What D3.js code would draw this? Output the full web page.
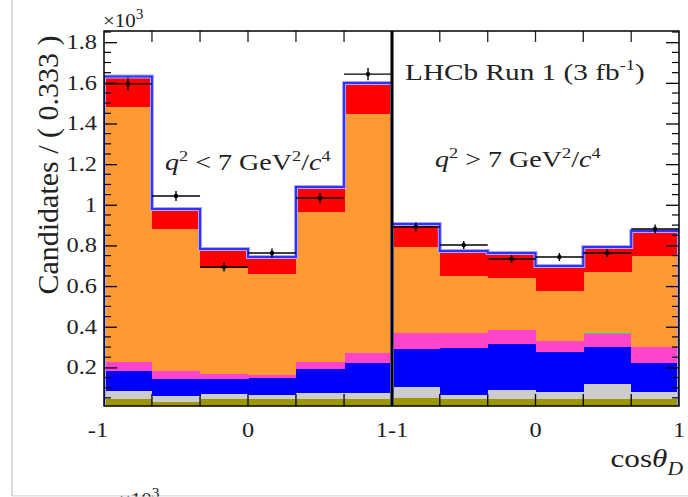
<!DOCTYPE html>
<html>
<head>
<meta charset="utf-8">
<script src="https://cdn.jsdelivr.net/npm/d3@7"></script>
<style>
  body { margin: 0; background: #ffffff; }
  svg { display: block; font-family: "Liberation Serif", "DejaVu Serif", serif; }
</style>
</head>
<body>
<svg id="chart" width="688" height="497"></svg>
<script>
// bin edges in cos(theta_D), same for both q2 panels
const binEdges = [-1, -0.667, -0.333, 0, 0.333, 0.667, 1];
const xTickLabels = [["-1", -1], ["0", 0], ["1", 1]];
const yTicks = [0.2, 0.4, 0.6, 0.8, 1, 1.2, 1.4, 1.6, 1.8];

// stacked templates, bottom to top (units of 10^3)
const lowOlive   = [0.044, 0.030, 0.044, 0.044, 0.044, 0.044];
const lowGray    = [0.040, 0.029, 0.025, 0.020, 0.030, 0.030];
const lowBlue    = [0.098, 0.084, 0.074, 0.084, 0.118, 0.148];
const lowMagenta = [0.044, 0.039, 0.024, 0.015, 0.034, 0.049];
const lowTeal    = [0, 0, 0, 0, 0, 0];
const lowOrange  = [1.255, 0.699, 0.522, 0.496, 0.738, 1.176];
const lowRed     = [0.150, 0.098, 0.093, 0.084, 0.123, 0.152];
const lowData    = [1.595, 1.043, 0.694, 0.763, 1.033, 1.643];
const lowErr     = [0.030, 0.025, 0.022, 0.022, 0.025, 0.030];

const highOlive   = [0.050, 0.044, 0.044, 0.044, 0.044, 0.044];
const highGray    = [0.053, 0.020, 0.045, 0.035, 0.074, 0.035];
const highBlue    = [0.187, 0.231, 0.226, 0.197, 0.182, 0.143];
const highMagenta = [0.079, 0.074, 0.069, 0.054, 0.064, 0.078];
const highTeal    = [0.002, 0.002, 0.002, 0.002, 0.004, 0.002];
const highOrange  = [0.421, 0.279, 0.254, 0.244, 0.301, 0.446];
const highRed     = [0.113, 0.123, 0.123, 0.123, 0.123, 0.123];
const highData    = [0.891, 0.802, 0.733, 0.743, 0.763, 0.881];
const highErr     = [0.022, 0.020, 0.020, 0.020, 0.020, 0.022];

const layerKeys   = ["olive", "gray", "blue", "magenta", "teal", "orange", "red"];
const layerColors = ["#9c9700", "#cccccc", "#0000ff", "#ff44cc", "#40c8a0", "#ff9933", "#ff0000"];

const panels = [
  { x0: 104, x1: 392, layers: [lowOlive, lowGray, lowBlue, lowMagenta, lowTeal, lowOrange, lowRed], data: lowData, err: lowErr },
  { x0: 392, x1: 679, layers: [highOlive, highGray, highBlue, highMagenta, highTeal, highOrange, highRed], data: highData, err: highErr }
];

const plotTop = 31, plotBottom = 406;
const sx = 1.22; // the figure's text is a little wide
const svg = d3.select("#chart");

const y = d3.scaleLinear().domain([0.01, 1.855]).range([plotBottom, plotTop]);

// horizontal text with the reference's wide look
function wideText(x0, y0, size, anchor, stretch) {
  return svg.append("g")
    .attr("transform", `translate(${x0},${y0}) scale(${stretch || sx},1)`)
    .append("text")
    .attr("text-anchor", anchor || "start")
    .attr("font-size", size)
    .attr("fill", "#222");
}

// page border lines
svg.append("line").attr("x1", 12).attr("x2", 12).attr("y1", 0).attr("y2", 496)
  .attr("stroke", "#c4c4c4").attr("stroke-width", 1.2);
svg.append("line").attr("x1", 12).attr("x2", 688).attr("y1", 496).attr("y2", 496)
  .attr("stroke", "#c4c4c4").attr("stroke-width", 1.2);

panels.forEach((p, pi) => {
  const x = d3.scaleLinear().domain([-1, 1]).range([p.x0, p.x1]);

  const rows = binEdges.slice(0, -1).map((e, i) => {
    const r = { lo: e, hi: binEdges[i + 1] };
    layerKeys.forEach((k, li) => r[k] = p.layers[li][i]);
    return r;
  });
  const stacked = d3.stack().keys(layerKeys)(rows);

  svg.append("clipPath").attr("id", "clip" + pi)
    .append("rect").attr("x", p.x0).attr("y", plotTop).attr("width", p.x1 - p.x0).attr("height", plotBottom - plotTop);

  const g = svg.append("g").attr("clip-path", `url(#clip${pi})`);

  stacked.forEach((layer, li) => {
    g.selectAll(null)
      .data(layer)
      .enter()
      .append("rect")
      .attr("x", d => x(d.data.lo))
      .attr("width", d => x(d.data.hi) - x(d.data.lo) + 0.5)
      .attr("y", d => y(d[1]))
      .attr("height", d => Math.max(0, y(d[0]) - y(d[1])))
      .attr("fill", layerColors[li])
      .attr("shape-rendering", "crispEdges");
  });

  // total fit outline
  const totals = rows.map(r => layerKeys.reduce((s, k) => s + r[k], 0));
  const pts = [[-1, 0]];
  rows.forEach((r, i) => pts.push([r.lo, totals[i]]));
  pts.push([1, totals[totals.length - 1]], [1, 0]);
  const line = d3.line().x(d => x(d[0])).y(d => y(d[1])).curve(d3.curveStepAfter);
  g.append("path").datum(pts).attr("d", line)
    .attr("fill", "none").attr("stroke", "#a8a8ff").attr("stroke-width", 4);
  g.append("path").datum(pts).attr("d", line)
    .attr("fill", "none").attr("stroke", "#3030ff").attr("stroke-width", 2);

  // data points
  const pts2 = rows.map((r, i) => ({ lo: r.lo, hi: r.hi, v: p.data[i], e: p.err[i] }));
  const dg = svg.append("g");
  dg.selectAll(null).data(pts2).enter().append("line")
    .attr("x1", d => x(d.lo)).attr("x2", d => x(d.hi))
    .attr("y1", d => y(d.v)).attr("y2", d => y(d.v))
    .attr("stroke", "#000").attr("stroke-width", 1.4);
  dg.selectAll(null).data(pts2).enter().append("line")
    .attr("x1", d => (x(d.lo) + x(d.hi)) / 2).attr("x2", d => (x(d.lo) + x(d.hi)) / 2)
    .attr("y1", d => y(d.v - d.e)).attr("y2", d => y(d.v + d.e))
    .attr("stroke", "#000").attr("stroke-width", 1.4);
  dg.selectAll(null).data(pts2).enter().append("circle")
    .attr("cx", d => (x(d.lo) + x(d.hi)) / 2).attr("cy", d => y(d.v)).attr("r", 2.2)
    .attr("fill", "#000");

  // bin-edge ticks, top and bottom
  const inner = binEdges.slice(1, -1);
  svg.selectAll(null).data(inner).enter().append("line")
    .attr("x1", d => x(d)).attr("x2", d => x(d))
    .attr("y1", plotBottom).attr("y2", plotBottom - 12)
    .attr("stroke", "#000").attr("stroke-width", 1.3);
  svg.selectAll(null).data(inner).enter().append("line")
    .attr("x1", d => x(d)).attr("x2", d => x(d))
    .attr("y1", plotTop).attr("y2", plotTop + 11)
    .attr("stroke", "#222").attr("stroke-width", 1.3);

  // x tick labels; the left "1" and right "-1" share the divider and read "1-1"
  xTickLabels.forEach(([txt, v]) => {
    if (pi === 0 && v === 1) return;
    let label = txt, px = x(v);
    if (pi === 1 && v === -1) label = "1-1";
    if (pi === 0 && v === -1) px -= 6;
    wideText(px, 437, 20, "middle").text(label);
  });
});

// y axes
const minor = d3.range(0.05, 1.86, 0.05).filter(v => Math.abs(v * 5 - Math.round(v * 5)) > 1e-6);
const leftAxis = d3.axisLeft(y).tickValues(yTicks).tickSizeInner(-13).tickSizeOuter(0).tickFormat("");
const ax = svg.append("g").attr("transform", "translate(104,0)").call(leftAxis);
ax.select(".domain").remove();
ax.selectAll("line").attr("stroke-width", 1.3);
yTicks.forEach(v => wideText(97, y(v) + 7, 20, "end").text(d3.format("~g")(v)));
svg.append("g").selectAll("line").data(minor).enter().append("line")
  .attr("x1", 104).attr("x2", 111).attr("y1", d => y(d)).attr("y2", d => y(d))
  .attr("stroke", "#000").attr("stroke-width", 1.2);

const rightAxis = d3.axisRight(y).tickValues(yTicks).tickSizeInner(-13).tickSizeOuter(0).tickFormat("");
const rx = svg.append("g").attr("transform", "translate(679,0)").call(rightAxis);
rx.select(".domain").remove();
rx.selectAll("line").attr("stroke-width", 1.3);
svg.append("g").selectAll("line").data(minor).enter().append("line")
  .attr("x1", 679).attr("x2", 672).attr("y1", d => y(d)).attr("y2", d => y(d))
  .attr("stroke", "#000").attr("stroke-width", 1.2);

// frame and divider
svg.append("rect").attr("x", 104).attr("y", plotTop).attr("width", 575).attr("height", plotBottom - plotTop)
  .attr("fill", "none").attr("stroke", "#000").attr("stroke-width", 1.5);
svg.append("line").attr("x1", 392).attr("x2", 392).attr("y1", plotTop).attr("y2", plotBottom)
  .attr("stroke", "#000").attr("stroke-width", 3);

// texts
const mult = wideText(103, 27, 19, "start", 1.1);
mult.append("tspan").text("×10");
mult.append("tspan").attr("dy", -8).attr("font-size", 14).text("3");

const mult2 = wideText(119, 506, 19, "start", 1.1);
mult2.append("tspan").text("×10");
mult2.append("tspan").attr("dy", -8).attr("font-size", 14).text("3");
svg.append("rect").attr("x", 0).attr("y", 496.6).attr("width", 688).attr("height", 1).attr("fill", "#fff");

svg.append("text")
  .attr("transform", "translate(58,165) rotate(-90)")
  .attr("text-anchor", "middle")
  .attr("font-size", 30)
  .attr("fill", "#222")
  .text("Candidates / ( 0.333 )");

const xl = wideText(683, 467, 26, "end", 1.2);
xl.append("tspan").text("cos");
xl.append("tspan").attr("font-style", "italic").text("θ");
xl.append("tspan").attr("font-style", "italic").attr("font-size", 18).attr("dy", 8).text("D");

const lhcb = wideText(405, 80, 24);
lhcb.append("tspan").text("LHCb Run 1 (3 fb");
lhcb.append("tspan").attr("font-size", 15).attr("dy", -10).text("-1");
lhcb.append("tspan").attr("dy", 10).text(")");

function q2Label(x0, y0, sign) {
  const t = wideText(x0, y0, 23);
  t.append("tspan").attr("font-style", "italic").text("q");
  t.append("tspan").attr("font-size", 15).attr("dy", -9).text("2");
  t.append("tspan").attr("dy", 9).text(` ${sign} 7 GeV`);
  t.append("tspan").attr("font-size", 15).attr("dy", -9).text("2");
  t.append("tspan").attr("dy", 9).text("/");
  t.append("tspan").attr("font-style", "italic").text("c");
  t.append("tspan").attr("font-size", 15).attr("dy", -9).text("4");
}
q2Label(165, 170, "<");
q2Label(435, 167, ">");
</script>
</body>
</html>
